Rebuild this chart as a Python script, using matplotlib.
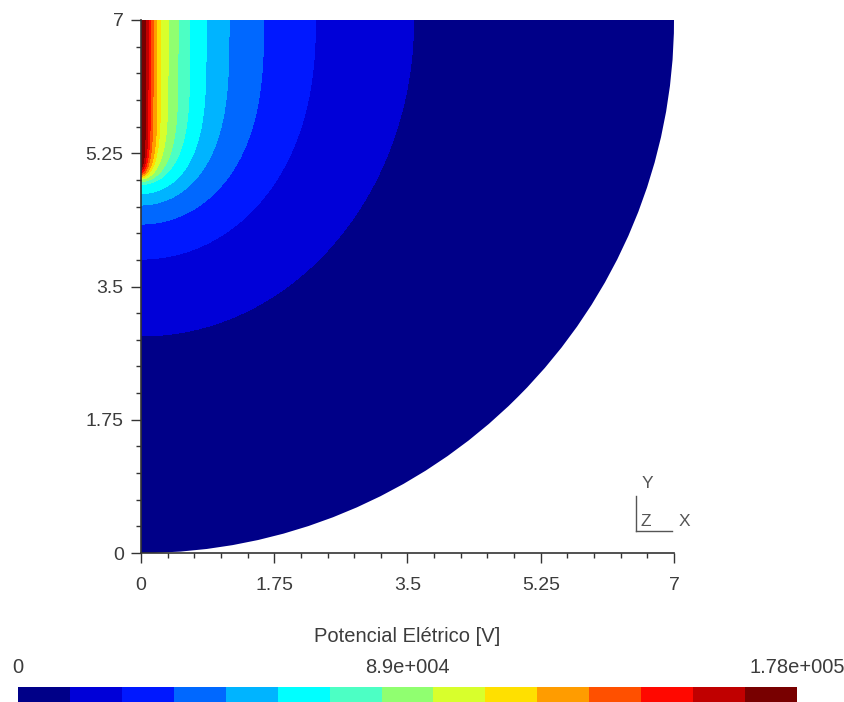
import numpy as np
import matplotlib
matplotlib.use("Agg")
import matplotlib.pyplot as plt
from matplotlib.patches import Wedge
from matplotlib.colors import ListedColormap, BoundaryNorm
from matplotlib.cm import ScalarMappable
from matplotlib.lines import Line2D

plt.rcParams['font.family'] = ['Liberation Sans', 'DejaVu Sans']

#=================================================================================================================================
#DATA
#=================================================================================================================================
vmin = 0.0
vmax = 1.78e5
n_bands = 15
band_colors = ["#000088", "#0000d8", "#0018ff", "#0068ff", "#00b4ff",
               "#00ffff", "#4cffc4", "#90ff70", "#d8ff2c", "#ffe000",
               "#ff9c00", "#ff5000", "#ff0800", "#c00000", "#780000"]

# where each band boundary (1..14) meets the top edge (y = 7) and the left edge (x = 0)
edge_top_x = [3.58, 2.29, 1.61, 1.156, 0.855, 0.64, 0.486, 0.355, 0.258, 0.21, 0.158, 0.123, 0.092, 0.057]
edge_left_y = [2.85, 3.86, 4.32, 4.57, 4.72, 4.84, 4.88, 4.91, 4.93, 4.95, 4.97, 5.00, 5.03, 5.06]
# how square each boundary looks (2 = plain ellipse, bigger = straighter sides)
edge_shape = [2.0, 2.3, 2.7, 3.2, 4.0, 4.6, 5.2, 5.8, 6.4, 7.0, 7.5, 8.0, 8.5, 9.0]

domain_r = 7.0
ticks = [0, 1.75, 3.5, 5.25, 7]
tick_labels = ["0", "1.75", "3.5", "5.25", "7"]
cbar_ticks = [0, 8.9e4, 1.78e5]
cbar_labels = ["0", "8.9e+004", "1.78e+005"]
xlabel = "Potencial Elétrico [V]"

#=================================================================================================================================
#FIELD
#=================================================================================================================================
levels = np.linspace(vmin, vmax, n_bands + 1)
step = (vmax - vmin) / n_bands

xs = np.linspace(0, domain_r, 1600)
ys = np.linspace(0, domain_r, 1600)
X, Y = np.meshgrid(xs, ys)

# every boundary is a quarter (super)ellipse centred on the top-left corner
band = np.zeros_like(X)
for a, yl, q in zip(edge_top_x, edge_left_y, edge_shape):
    b = domain_r - yl
    band += ((X / a) ** 2 + ((domain_r - Y) / b) ** q) < 1.0
Z = vmin + (band + 0.5) * step

#=================================================================================================================================
#PLOT
#=================================================================================================================================
fig = plt.figure(figsize=(8.45, 7.02), dpi=100)
ax = fig.add_axes([141 / 845, 1 - 553 / 702, 533 / 845, 533 / 702])

cmap = ListedColormap(band_colors)
norm = BoundaryNorm(levels, cmap.N)
cs = ax.contourf(X, Y, Z, levels=levels, cmap=cmap, norm=norm, antialiased=False)
wedge = Wedge((0, domain_r), domain_r, 270, 360, transform=ax.transData)
cs.set_clip_path(wedge)

ax.set_xlim(0, domain_r)
ax.set_ylim(0, domain_r)
ax.spines['top'].set_visible(False)
ax.spines['right'].set_visible(False)
for s in ['left', 'bottom']:
    ax.spines[s].set_color('#333333')
    ax.spines[s].set_linewidth(1.2)
    ax.spines[s].set_zorder(5)

ax.set_xticks(ticks)
ax.set_xticklabels(tick_labels)
ax.set_yticks(ticks)
ax.set_yticklabels(tick_labels)
ax.set_xticks(np.arange(0, 7.01, 0.35), minor=True)
ax.set_yticks(np.arange(0, 7.01, 0.35), minor=True)
ax.tick_params(which='major', direction='out', length=7.5, width=1.0, color='#333333',
               labelsize=14, labelcolor='#3c3c3c')
ax.tick_params(which='minor', direction='out', length=3.8, width=1.0, color='#333333')
ax.tick_params(axis='x', which='major', pad=10)
ax.tick_params(axis='y', which='major', pad=5)

fig.text(407.5 / 845, 1 - 636 / 702, xlabel, ha='center', va='center', fontsize=14.5, color='#3c3c3c')

# colour legend along the bottom edge
cax = fig.add_axes([18 / 845, 0, 779 / 845, 15 / 702])
cb = fig.colorbar(ScalarMappable(norm=norm, cmap=cmap), cax=cax, orientation='horizontal')
cb.outline.set_visible(False)
cax.xaxis.set_ticks_position('top')
cb.set_ticks(cbar_ticks)
cb.set_ticklabels(cbar_labels)
cax.tick_params(length=0, pad=7, labelsize=14.5, labelcolor='#3c3c3c')
cax.minorticks_off()

# axis triad
tri_color = '#555555'
fig.add_artist(Line2D([636 / 845, 636 / 845], [1 - 496 / 702, 1 - 531 / 702], transform=fig.transFigure, color=tri_color, lw=1))
fig.add_artist(Line2D([636 / 845, 672 / 845], [1 - 531 / 702, 1 - 531 / 702], transform=fig.transFigure, color=tri_color, lw=1))
fig.text(647 / 845, 1 - 484 / 702, "Y", ha='center', va='center', fontsize=12.5, color=tri_color)
fig.text(646 / 845, 1 - 521 / 702, "Z", ha='center', va='center', fontsize=12.5, color=tri_color)
fig.text(684 / 845, 1 - 521 / 702, "X", ha='center', va='center', fontsize=12.5, color=tri_color)

plt.savefig("out.png", dpi=100)
